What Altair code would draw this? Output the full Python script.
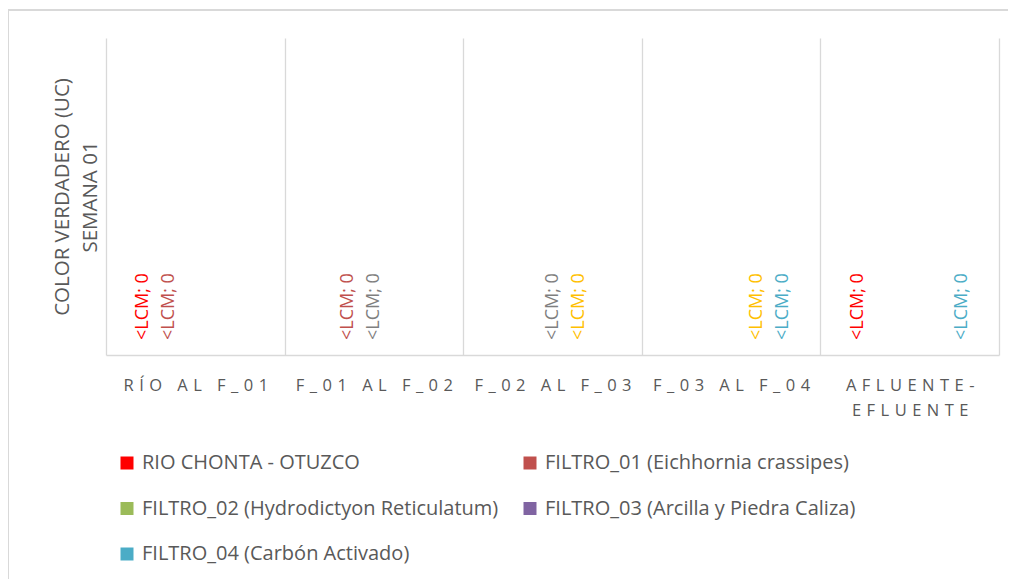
import altair as alt
import pandas as pd
import json

categories = ["RÍO AL F_01", "F_01 AL F_02", "F_02 AL F_03", "F_03 AL F_04", "AFLUENTE-|EFLUENTE"]
series = [
    "RIO CHONTA - OTUZCO",
    "FILTRO_01 (Eichhornia crassipes)",
    "FILTRO_02 (Hydrodictyon Reticulatum)",
    "FILTRO_03 (Arcilla y Piedra Caliza)",
    "FILTRO_04 (Carbón Activado)",
]
bar_colors = ["#FF0000", "#C0504D", "#9BBB59", "#8064A2", "#4BACC6"]
label_colors = ["#FF0000", "#C0504D", "#7F7F7F", "#FFC000", "#4BACC6"]

rio = [0, None, None, None, 0]
f01 = [0, 0, None, None, None]
f02 = [None, 0, 0, None, None]
f03 = [None, None, 0, 0, None]
f04 = [None, None, None, 0, 0]
label_text = "<LCM; 0"

GAP = "\u2009\u2009"

def spaced(s):
    return GAP.join(list(s))

rows = []
for s, vals, lc in zip(series, [rio, f01, f02, f03, f04], label_colors):
    for c, v in zip(categories, vals):
        if v is not None:
            rows.append({"cat": c, "serie": s, "valor": v, "lbl": label_text, "lcolor": lc})
df = pd.DataFrame(rows)

FONT = "Open Sans"
GREY = "#595959"

spaced_map = {c: [spaced(p) for p in c.split("|")] for c in categories}
label_expr = f"{json.dumps(spaced_map, ensure_ascii=False)}[datum.value]"

x = alt.X(
    "cat:N",
    sort=categories,
    title=None,
    scale=alt.Scale(paddingInner=0, paddingOuter=0),
    axis=alt.Axis(
        labelExpr=label_expr,
        labelAngle=0,
        labelFont=FONT,
        labelFontSize=16.5,
        labelColor=GREY,
        labelPadding=22,
        labelLineHeight=25,
        labelBaseline="top",
        ticks=False,
        tickSize=0,
        domainColor="#D9D9D9",
        domainWidth=1.3,
        grid=True,
        gridColor="#D9D9D9",
        gridWidth=1.3,
        tickBand="extent",
        labelLimit=300,
    ),
)
xo = alt.XOffset("serie:N", sort=series, scale=alt.Scale(paddingInner=0, paddingOuter=0.93))
y = alt.Y(
    "valor:Q",
    scale=alt.Scale(domain=[0, 1]),
    axis=alt.Axis(
        title=["COLOR VERDADERO (UC)", "SEMANA 01"],
        titleFont=FONT,
        titleFontSize=20.5,
        titleFontWeight="normal",
        titleColor=GREY,
        titleLineHeight=28,
        titlePadding=6,
        labels=False,
        ticks=False,
        domain=False,
        grid=False,
    ),
)

bars = alt.Chart(df).mark_bar().encode(
    x=x,
    xOffset=xo,
    y=y,
    color=alt.Color(
        "serie:N",
        sort=series,
        scale=alt.Scale(domain=series, range=bar_colors),
        legend=alt.Legend(
            title=None,
            orient="none",
            direction="horizontal",
            legendX=11,
            legendY=415,
            columns=2,
            symbolType="square",
            symbolSize=169,
            symbolStrokeWidth=0,
            labelFont=FONT,
            labelFontSize=20,
            labelColor=GREY,
            labelLimit=600,
            labelOffset=5,
            rowPadding=25.5,
            columnPadding=21,
        ),
    ),
)

labels = alt.Chart(df).mark_text(
    angle=270, align="left", baseline="middle", dx=15, font=FONT, fontSize=18
).encode(
    x=x,
    xOffset=xo,
    y=y,
    text="lbl:N",
    color=alt.Color("lcolor:N", scale=None),
)

border = alt.Chart(df).mark_rect(fill=None, stroke="#D9D9D9", strokeWidth=1.5).encode(
    x=alt.value(-98), x2=alt.value(940), y=alt.value(-28), y2=alt.value(600)
)

chart = alt.layer(border, bars, labels).properties(
    width=893,
    height=317,
    padding={"left": 98, "top": 30, "right": 9, "bottom": 224},
    autosize=alt.AutoSizeParams(type="none"),
).configure_view(stroke=None)

chart.save("out.html", embed_options={"renderer": "svg", "actions": False})
